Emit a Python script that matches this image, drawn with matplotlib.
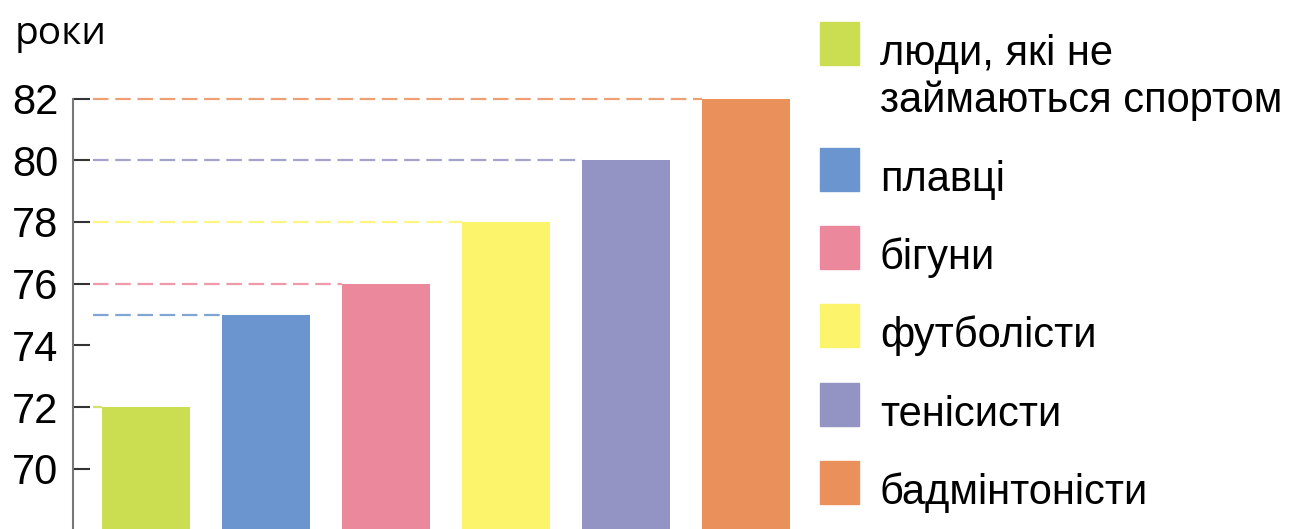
import matplotlib.pyplot as plt
from matplotlib.patches import Rectangle

labels = ['люди, які не\nзаймаються спортом', 'плавці', 'бігуни',
          'футболісти', 'тенісисти', 'бадмінтоністи']
ages = [72, 75, 76, 78, 80, 82]
colors = ['#CBDD51', '#6A95CE', '#EC889C', '#FCF46B', '#9393C4', '#EA905B']
yticks = [70, 72, 74, 76, 78, 80, 82]

plt.rcParams['font.family'] = ['Liberation Sans', 'DejaVu Sans']

fig = plt.figure(figsize=(12.91, 5.29), dpi=100)
ax = fig.add_axes([72.5 / 1291, 0, (800 - 72.5) / 1291, (529 - 98.5) / 529])

w = 0.733
x = list(range(len(ages)))
ax.bar(x, [a - 60 for a in ages], bottom=60, width=w, color=colors, zorder=2)
for i, (a, c) in enumerate(zip(ages, colors)):
    ax.plot([-0.44, i - w / 2], [a, a], color=c, lw=1.6, alpha=0.85,
            dashes=(7, 3), zorder=1, clip_on=False)

ax.set_xlim(-0.6125, 5.45)
ax.set_ylim(68.05, 82)
ax.set_yticks(yticks)
ax.set_xticks([])
for s in ['top', 'right', 'bottom']:
    ax.spines[s].set_visible(False)
ax.spines['left'].set_color('#777777')
ax.spines['left'].set_linewidth(1.5)
ax.tick_params(axis='y', direction='in', length=12, width=1.5, color='#333333',
               labelsize=30, pad=10)

fig.text(15 / 1291, 1 - 44 / 529, 'роки', fontsize=28, family=['Open Sans', 'DejaVu Sans'],
         va='baseline', ha='left')

# legend
tops = [22, 148, 226, 304, 383, 461]
for lab, c, t in zip(labels, colors, tops):
    fig.add_artist(Rectangle((820 / 1291, 1 - (t + 43) / 529), 39 / 1291, 43 / 529,
                             transform=fig.transFigure, color=c))
    fig.text(880 / 1291, 1 - (t + 43) / 529, lab.split('\n')[0], fontsize=30,
             va='baseline', ha='left')
    if '\n' in lab:
        fig.text(880 / 1291, 1 - (t + 43 + 47) / 529, lab.split('\n')[1], fontsize=30,
                 va='baseline', ha='left')

fig.savefig('out.png', dpi=100)
